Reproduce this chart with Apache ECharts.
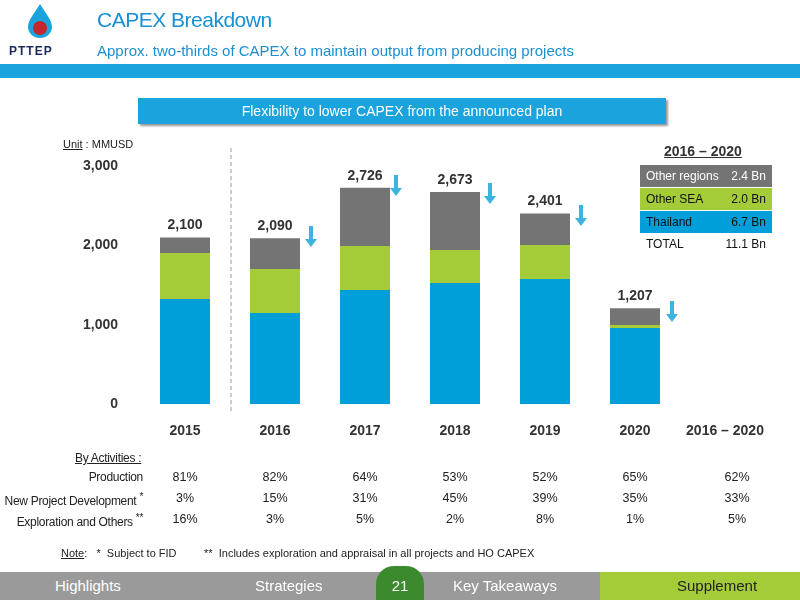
<!DOCTYPE html>
<html><head><meta charset="utf-8">
<script src="https://cdn.jsdelivr.net/npm/echarts@6/dist/echarts.min.js"></script>
<style>
body{margin:0;width:800px;height:600px;position:relative;font-family:"Liberation Sans",Arial,sans-serif;background:#fff;overflow:hidden}
.a{position:absolute;white-space:nowrap}
#c{position:absolute;left:0;top:0;width:800px;height:600px}
</style></head><body>
<div id="c"></div>
<div class="a" style="left:0;top:64px;width:800px;height:14px;background:#1aa3dc"></div>
<div class="a" style="left:26px;top:3px">
 <svg width="28" height="36" viewBox="0 0 28 36"><path d="M14 1 C8 11 2 17 2 24 A12 11 0 0 0 26 24 C26 17 20 11 14 1Z" fill="#1aa3dc"/><circle cx="14" cy="25" r="7" fill="#c4262e"/></svg>
</div>
<div class="a" style="left:9px;top:44px;font-weight:bold;font-size:12px;color:#1b2a5c;letter-spacing:1px">PTTEP</div>
<div class="a" style="left:97px;top:8px;font-size:21px;color:#1a8fd2;letter-spacing:-0.5px">CAPEX Breakdown</div>
<div class="a" style="left:97px;top:42px;font-size:15px;color:#1a8fd2">Approx. two-thirds of CAPEX to maintain output from producing projects</div>
<div class="a" style="left:138px;top:98px;width:528px;height:26px;background:#1aa3dc;color:#fff;font-size:14px;line-height:26px;text-align:center;box-shadow:2px 2px 2px #999">Flexibility to lower CAPEX from the announced plan</div>
<div class="a" style="left:63px;top:138px;font-size:11px;color:#222"><u>Unit</u> : MMUSD</div>
<div class="a" style="left:664px;top:143px;font-size:14px;font-weight:bold;color:#333"><u>2016 – 2020</u></div>
<div class="a" style="left:640px;top:165px;width:132px;height:22px;background:#747474;color:#fff;font-size:12px;line-height:22px"><span style="margin-left:6px">Other regions</span><span style="position:absolute;right:6px">2.4 Bn</span></div>
<div class="a" style="left:640px;top:188px;width:132px;height:22px;background:#a4cc39;color:#111;font-size:12px;line-height:22px"><span style="margin-left:6px">Other SEA</span><span style="position:absolute;right:6px">2.0 Bn</span></div>
<div class="a" style="left:640px;top:211px;width:132px;height:22px;background:#009fda;color:#111;font-size:12px;line-height:22px"><span style="margin-left:6px">Thailand</span><span style="position:absolute;right:6px">6.7 Bn</span></div>
<div class="a" style="left:640px;top:234px;width:132px;height:20px;color:#111;font-size:12px;line-height:20px"><span style="margin-left:6px">TOTAL</span><span style="position:absolute;right:6px">11.1 Bn</span></div>
<div id="tbl"></div>
<div class="a" style="left:61px;top:547px;font-size:11px;color:#222"><u>Note</u>: &nbsp; * &nbsp;Subject to FID &nbsp;&nbsp;&nbsp;&nbsp;&nbsp;&nbsp;&nbsp;&nbsp;** &nbsp;Includes exploration and appraisal in all projects and HO CAPEX</div>
<div class="a" style="left:0;top:572px;width:800px;height:28px;background:#9a9a9a"></div>
<div class="a" style="left:600px;top:572px;width:200px;height:28px;background:#a4cc39"></div>
<div class="a" style="left:55px;top:577px;color:#fff;font-size:15px">Highlights</div>
<div class="a" style="left:255px;top:577px;color:#fff;font-size:15px">Strategies</div>
<div class="a" style="left:453px;top:577px;color:#fff;font-size:15px">Key Takeaways</div>
<div class="a" style="left:677px;top:577px;color:#222;font-size:15px">Supplement</div>
<div class="a" style="left:376px;top:566px;width:48px;height:34px;background:#3c8a2e;border-radius:18px 18px 0 0;color:#fff;font-size:15px;text-align:center;line-height:40px">21</div>
<script>
const years=['2015','2016','2017','2018','2019','2020','2016 – 2020'];
const thailand=[1324,1147,1437,1526,1576,958,null];
const otherSEA=[580,555,555,416,429,38,null];
const otherRegions=[196,388,734,731,396,211,null];
const totals=['2,100','2,090','2,726','2,673','2,401','1,207',''];
const yTicks=[0,1000,2000,3000];
const rowNames=['Production','New Project Development <sup>*</sup>','Exploration and Others <sup>**</sup>'];
const rows=[['81%','82%','64%','53%','52%','65%','62%'],['3%','15%','31%','45%','39%','35%','33%'],['16%','3%','5%','2%','8%','1%','5%']];

let h='<div class="a" style="left:75px;top:451px;font-size:12px;letter-spacing:-0.3px;color:#222"><u>By Activities :</u></div>';
const xs=[185,275,365,455,545,635,737], ys=[478,499,520];
rows.forEach((r,i)=>{h+=`<div class="a" style="right:${800-143}px;top:${ys[i]-8}px;font-size:12px;letter-spacing:-0.3px;color:#222;text-align:right">${rowNames[i]}</div>`;
 r.forEach((v,j)=>{h+=`<div class="a" style="left:${xs[j]-30}px;width:60px;text-align:center;top:${ys[i]-8}px;font-size:12.5px;color:#222">${v}</div>`;});});
document.getElementById('tbl').innerHTML=h;

const ch=echarts.init(document.getElementById('c'));
const arrow=(x,y)=>({type:'group',x:x,y:y,children:[{type:'rect',shape:{x:-2,y:0,width:4,height:14},style:{fill:'#3db3e0'}},{type:'polygon',shape:{points:[[-6,13],[6,13],[0,21]]},style:{fill:'#3db3e0'}}]});
ch.setOption({
 animation:false,
 grid:{left:140,right:30,top:166,bottom:196},
 xAxis:{type:'category',data:years,axisTick:{show:false},axisLine:{show:false},axisLabel:{interval:0,fontSize:14,fontWeight:'bold',color:'#333',margin:20}},
 yAxis:{type:'value',min:0,max:3000,interval:1000,splitLine:{show:false},axisLabel:{fontSize:14,fontWeight:'bold',color:'#333',margin:22,formatter:v=>v.toLocaleString('en-US')}},
 series:[
  {type:'bar',stack:'a',data:thailand,barWidth:50,itemStyle:{color:'#009fda'}},
  {type:'bar',stack:'a',data:otherSEA,itemStyle:{color:'#a4cc39'}},
  {type:'bar',stack:'a',data:otherRegions,itemStyle:{color:'#747474'},label:{show:true,position:'top',fontSize:14,fontWeight:'bold',color:'#333',formatter:p=>totals[p.dataIndex]}}
 ],
 graphic:[
  {type:'line',shape:{x1:231,y1:148,x2:231,y2:414},style:{stroke:'#999',lineDash:[4,3],lineWidth:1}},
  arrow(311,226),arrow(396,175),arrow(490,183),arrow(581,205),arrow(672,301)
 ]
});
</script></body></html>
